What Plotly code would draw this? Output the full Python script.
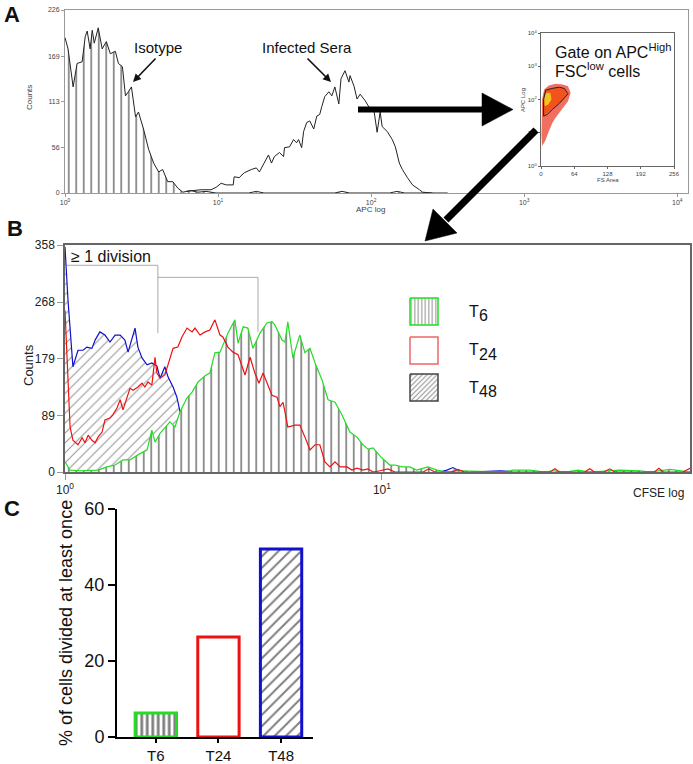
import plotly.graph_objects as go

W, H = 693, 764
FONT = "Arial, 'Liberation Sans', sans-serif"

# ─── Panel A: APC histograms (x stored as log10 APC) ─────────────────────────
iso_log_apc = [0.0, 0.02, 0.053, 0.079, 0.112, 0.132, 0.145, 0.164, 0.178, 0.191,
               0.217, 0.243, 0.27, 0.296, 0.329, 0.349, 0.375, 0.395, 0.414, 0.434,
               0.461, 0.48, 0.513, 0.546, 0.579, 0.612, 0.638, 0.671, 0.704, 0.737,
               0.77, 0.822, 0.868, 0.921, 0.987, 1.2, 1.25, 1.3, 1.76, 1.81,
               1.86, 2.12, 2.17, 2.22, 2.5]
iso_counts = [192, 178, 131, 160, 162, 193, 200, 178, 201, 185,
              204, 178, 187, 172, 175, 160, 156, 120, 125, 131,
              94, 100, 79, 54, 37, 26, 29, 14, 14, 6,
              1, 3, 1, 2, 0, 0, 2, 0, 0, 2,
              0, 0, 2, 0, 0]

inf_log_apc = [0.79, 0.855, 0.888, 0.954, 0.987, 1.02, 1.053, 1.099, 1.105, 1.138,
               1.171, 1.217, 1.25, 1.27, 1.303, 1.329, 1.349, 1.368, 1.401, 1.428,
               1.434, 1.467, 1.493, 1.513, 1.526, 1.546, 1.559, 1.579, 1.599, 1.625,
               1.645, 1.664, 1.678, 1.697, 1.724, 1.743, 1.763, 1.789, 1.803, 1.829,
               1.855, 1.862, 1.888, 1.908, 1.928, 1.961, 1.993, 2.02, 2.039, 2.059,
               2.072, 2.105, 2.138, 2.158, 2.184, 2.204, 2.237, 2.27, 2.316, 2.336,
               2.40]
inf_counts = [2, 3, 4, 4, 7, 12, 10, 10, 20, 19,
              25, 29, 31, 26, 37, 47, 37, 45, 50, 45,
              56, 57, 66, 62, 66, 56, 76, 87, 89, 79,
              95, 97, 107, 119, 125, 120, 131, 110, 141, 151,
              137, 145, 132, 116, 122, 114, 104, 100, 75, 100,
              82, 76, 66, 57, 37, 29, 19, 10, 4, 1,
              0]

# inset dot plot: gated population outlines (FS area, log10 APC)
cloud_fs = [2, 8, 14, 22, 28, 40, 52, 57, 52, 42, 28, 15, 6, 2, 1, 1]
cloud_apc = [0.6, 0.75, 1.0, 1.3, 1.45, 1.7, 1.95, 2.2, 2.4, 2.45, 2.47, 2.42, 2.3, 2.0, 1.5, 0.9]
dense_fs = [4, 12, 25, 40, 50, 45, 30, 15, 6, 3]
dense_apc = [1.5, 1.6, 1.75, 1.95, 2.15, 2.32, 2.35, 2.32, 2.2, 1.9]
core_fs = [7, 14, 20, 18, 10, 6]
core_apc = [1.8, 1.85, 2.0, 2.2, 2.2, 2.05]
gate_fs = [5, 5, 9, 20, 35, 45, 52, 45, 35, 22, 12, 5]
gate_apc = [1.5, 2.0, 2.28, 2.33, 2.37, 2.33, 2.17, 2.05, 1.88, 1.7, 1.55, 1.5]

# ─── Panel B: CFSE histograms (x stored as log10 CFSE) ───────────────────────
t48_log = [0, 0.0095, 0.025, 0.041, 0.057, 0.069, 0.085, 0.095, 0.11, 0.126,
           0.142, 0.158, 0.174, 0.189, 0.199, 0.211, 0.221, 0.23, 0.243, 0.259,
           0.274, 0.29, 0.3, 0.315, 0.325, 0.341, 0.353, 0.363, 0.394, 0.426,
           0.473, 0.536, 0.615, 0.741, 0.899, 0.994, 1.183, 1.205, 1.224, 1.243,
           1.278, 1.372, 1.435, 1.972]
t48_counts = [355, 271, 166, 192, 192, 197, 195, 208, 221, 216,
              205, 216, 216, 208, 189, 211, 227, 197, 180, 169,
              172, 167, 148, 166, 150, 134, 118, 95, 70, 45,
              25, 12, 5, 2, 1, 0, 0, 3, 7, 2,
              0, 2, 0, 0]

t24_log = [0, 0.0095, 0.016, 0.025, 0.041, 0.054, 0.063, 0.073, 0.085, 0.095,
           0.104, 0.117, 0.126, 0.142, 0.151, 0.164, 0.174, 0.183, 0.196, 0.205,
           0.215, 0.23, 0.243, 0.252, 0.262, 0.274, 0.284, 0.29, 0.3, 0.315,
           0.325, 0.341, 0.356, 0.369, 0.385, 0.401, 0.41, 0.426, 0.442, 0.457,
           0.473, 0.489, 0.498, 0.514, 0.53, 0.546, 0.568, 0.584, 0.599, 0.612,
           0.625, 0.637, 0.653, 0.669, 0.678, 0.688, 0.703, 0.726, 0.741, 0.757,
           0.773, 0.789, 0.804, 0.82, 0.836, 0.852, 0.868, 0.89, 0.905, 0.921,
           0.94, 0.956, 0.972, 0.994, 1.019, 1.041, 1.13, 1.148, 1.167, 1.22,
           1.24, 1.26, 1.53, 1.546, 1.56, 1.64, 1.656, 1.67, 1.70, 1.719,
           1.735, 1.86, 1.874, 1.888, 1.95, 1.972]
t24_counts = [255, 145, 71, 50, 43, 54, 46, 58, 50, 46,
              55, 63, 82, 85, 90, 101, 114, 98, 117, 132,
              129, 134, 140, 134, 142, 137, 181, 156, 148, 153,
              169, 195, 197, 213, 227, 221, 227, 216, 221, 224,
              240, 216, 213, 197, 189, 185, 153, 181, 156, 140,
              156, 140, 121, 118, 103, 110, 71, 74, 74, 55,
              35, 43, 43, 16, 8, 16, 8, 8, 3, 6,
              3, 5, 0, 2, 5, 0, 0, 5, 0, 0,
              4, 0, 0, 5, 0, 0, 5, 0, 0, 5,
              0, 0, 6, 0, 0, 6]

t6_log = [0, 0.016, 0.047, 0.104, 0.132, 0.158, 0.183, 0.205, 0.23, 0.259,
          0.274, 0.284, 0.3, 0.315, 0.331, 0.347, 0.363, 0.385, 0.401, 0.42,
          0.442, 0.457, 0.473, 0.489, 0.498, 0.514, 0.536, 0.546, 0.562, 0.577,
          0.593, 0.615, 0.637, 0.653, 0.662, 0.685, 0.694, 0.703, 0.719, 0.741,
          0.757, 0.773, 0.789, 0.811, 0.83, 0.852, 0.874, 0.899, 0.921, 0.94,
          0.956, 0.972, 1.0, 1.025, 1.041, 1.063, 1.088, 1.11, 1.145, 1.174,
          1.205, 1.246, 1.388, 1.413, 1.467, 1.514, 1.539, 1.58, 1.618, 1.656,
          1.751, 1.814, 1.845, 1.909, 1.972]
t6_counts = [16, 3, 2, 3, 8, 11, 19, 19, 27, 35,
             66, 47, 61, 69, 79, 71, 95, 117, 126, 142,
             152, 156, 188, 189, 200, 219, 240, 203, 229, 227,
             195, 219, 235, 237, 232, 208, 205, 237, 180, 216,
             188, 195, 172, 145, 114, 110, 90, 63, 55, 43,
             36, 38, 22, 11, 11, 8, 8, 3, 8, 3,
             0, 2, 0, 3, 3, 0, 2, 0, 3, 0,
             3, 2, 0, 4, 0]

# ─── Panel C ─────────────────────────────────────────────────────────────────
timepoints = ["T6", "T24", "T48"]
pct_divided = [6.3, 26.3, 49.5]

GREEN, RED, BLUE = "#22dd22", "#ee1111", "#1111cc"


def P(px, py):
    """pixel -> paper coords"""
    return px / W, 1 - py / H


def dom_x(a, b):
    return [a / W, b / W]


def dom_y(top, bottom):
    return [1 - bottom / H, 1 - top / H]


def sup_ticks(n):
    return [f"10<sup>{i}</sup>" for i in range(n)]


fig = go.Figure()

# Panel A
fig.add_trace(go.Scatter(
    x=iso_log_apc, y=iso_counts, mode="lines", line=dict(color="#222", width=1),
    fill="tozeroy",
    fillpattern=dict(shape="|", fgcolor="black", bgcolor="white", size=7.5, solidity=0.22),
    xaxis="x", yaxis="y"))
fig.add_trace(go.Scatter(
    x=inf_log_apc, y=inf_counts, mode="lines", line=dict(color="#222", width=1),
    xaxis="x", yaxis="y"))

# inset
for xs, ys, col in [(cloud_fs, cloud_apc, "rgba(235,50,30,0.7)"),
                    (dense_fs, dense_apc, "rgba(240,80,20,0.9)"),
                    (core_fs, core_apc, "#f7c21e")]:
    fig.add_trace(go.Scatter(x=xs + xs[:1], y=ys + ys[:1], mode="lines", fill="toself",
                             fillcolor=col, line=dict(width=0), xaxis="x2", yaxis="y2"))
fig.add_trace(go.Scatter(x=gate_fs, y=gate_apc, mode="lines",
                         line=dict(color="#222", width=1), xaxis="x2", yaxis="y2"))

# Panel B
fig.add_trace(go.Scatter(
    x=t48_log, y=t48_counts, mode="lines", line=dict(color=BLUE, width=1.2),
    fill="tozeroy",
    fillpattern=dict(shape="/", fgcolor="#333", bgcolor="white", size=7, solidity=0.16),
    xaxis="x3", yaxis="y3"))
fig.add_trace(go.Scatter(
    x=t6_log, y=t6_counts, mode="lines", line=dict(color=GREEN, width=1.2),
    fill="tozeroy",
    fillpattern=dict(shape="|", fgcolor="black", bgcolor="white", size=7.5, solidity=0.22),
    xaxis="x3", yaxis="y3"))
fig.add_trace(go.Scatter(
    x=t24_log, y=t24_counts, mode="lines", line=dict(color=RED, width=1.2),
    xaxis="x3", yaxis="y3"))

# Panel C
fig.add_trace(go.Bar(
    x=timepoints, y=pct_divided, width=0.66,
    marker=dict(
        color="white",
        line=dict(color=[GREEN, RED, BLUE], width=3),
        pattern=dict(shape=["|", "", "/"], fgcolor="black", bgcolor="white",
                     size=[5.5, 6, 8], solidity=[0.5, 0.3, 0.25]),
    ),
    xaxis="x4", yaxis="y4"))

# legend swatches for panel B (overlay pixel axis)
for top, col, shape in [(298, GREEN, "|"), (337, "#ee6666", ""), (374, "#444", "/")]:
    fig.add_trace(go.Scatter(
        x=[410, 438, 438, 410, 410], y=[top, top, top + 27, top + 27, top],
        mode="lines", line=dict(color=col, width=1.5), fill="toself",
        fillcolor="white",
        fillpattern=dict(shape=shape, fgcolor="#222", bgcolor="white", size=3.5,
                         solidity=0.3),
        xaxis="x5", yaxis="y5"))

small = dict(family=FONT, size=7, color="#444")
thin = dict(showgrid=False, zeroline=False, showline=True, mirror=True, ticks="outside")

layout_axes = dict(
    xaxis=dict(domain=dom_x(65, 688), range=[0, 4.07], tickvals=[0, 1, 2, 3, 4],
               ticktext=sup_ticks(5), tickfont=small, linecolor="#999", tickcolor="#999",
               ticklen=3, anchor="y", **thin),
    yaxis=dict(domain=dom_y(10, 193), range=[0, 226], tickvals=[0, 56, 113, 169, 226],
               tickfont=small, linecolor="#999", tickcolor="#999", ticklen=3,
               anchor="x", **thin),
    xaxis2=dict(domain=dom_x(541, 674), range=[0, 256], tickvals=[0, 64, 128, 192, 256],
                tickfont=dict(family=FONT, size=6, color="#444"), linecolor="#666",
                tickcolor="#666", ticklen=2, anchor="y2", **thin),
    yaxis2=dict(domain=dom_y(33, 166), range=[0, 4], tickvals=[0, 1, 2, 3, 4],
                ticktext=sup_ticks(5), tickfont=dict(family=FONT, size=6, color="#444"),
                linecolor="#666", tickcolor="#666", ticklen=2, anchor="x2", **thin),
    xaxis3=dict(domain=dom_x(65, 690), range=[0, 1.972], tickvals=[0, 1],
                ticktext=sup_ticks(2), tickfont=dict(family=FONT, size=12, color="#222"),
                linecolor="#666", linewidth=1.5, tickcolor="#999", ticklen=6,
                anchor="y3", **thin),
    yaxis3=dict(domain=dom_y(245, 472), range=[0, 358], tickvals=[0, 89, 179, 268, 358],
                tickfont=dict(family=FONT, size=12, color="#222"), linecolor="#666",
                linewidth=1.5, tickcolor="#999", ticklen=6, anchor="x3", **thin),
    xaxis4=dict(domain=dom_x(117, 313), range=[-0.62, 2.51], showgrid=False,
                zeroline=False, showline=True, linecolor="black", linewidth=2,
                ticks="outside", tickcolor="black", tickwidth=2, ticklen=4,
                tickfont=dict(family=FONT, size=15, color="#111"), anchor="y4"),
    yaxis4=dict(domain=dom_y(509, 737), range=[0, 60], tickvals=[0, 20, 40, 60],
                showgrid=False, zeroline=False, showline=True, linecolor="black",
                linewidth=2, ticks="outside", tickcolor="black", tickwidth=2, ticklen=7,
                tickfont=dict(family=FONT, size=18, color="#111"), anchor="x4"),
    xaxis5=dict(domain=[0, 1], range=[0, W], visible=False, anchor="y5", fixedrange=True),
    yaxis5=dict(domain=[0, 1], range=[H, 0], visible=False, anchor="x5", fixedrange=True),
)


def note(px, py, text, size, **kw):
    x, y = P(px, py)
    d = dict(x=x, y=y, xref="paper", yref="paper", text=text, showarrow=False,
             font=dict(family=FONT, size=size, color=kw.pop("color", "#111")),
             xanchor=kw.pop("xanchor", "center"), yanchor=kw.pop("yanchor", "middle"))
    d.update(kw)
    return d


def pointer(tail, tip):
    x, y = P(*tip)
    return dict(x=x, y=y, xref="paper", yref="paper", text="", showarrow=True,
                ax=tail[0] - tip[0], ay=tail[1] - tip[1], arrowhead=2, arrowsize=1,
                arrowwidth=1.6, arrowcolor="#111")


annotations = [
    note(12, 15, "<b>A</b>", 22),
    note(15, 228, "<b>B</b>", 22),
    note(12, 508, "<b>C</b>", 22),
    note(158, 48, "Isotype", 15),
    note(307, 48, "Infected Sera", 15),
    pointer((157, 57), (133, 82)),
    pointer((306, 57), (331, 82)),
    note(29, 98, "Counts", 8, textangle=-90, color="#444"),
    note(370, 209, "APC log", 8, color="#444"),
    note(553, 51, "Gate on APC<sup>High</sup>", 16, xanchor="left"),
    note(553, 70, "FSC<sup>low</sup> cells", 16, xanchor="left"),
    note(523, 100, "APC Log", 6, textangle=-90, color="#444"),
    note(608, 180, "FS Area", 6, color="#444"),
    note(69, 256, "≥ 1 division", 16, xanchor="left"),
    note(29, 365, "Counts", 13, textangle=-90, color="#222"),
    note(658, 493, "CFSE log", 12, color="#222"),
    note(66, 623, "% of cells divided at least once", 18, textangle=-90),
]
for py, digits in [(313, "6"), (352, "24"), (389, "48")]:
    annotations.append(note(467, py - 2, "T", 16, xanchor="left"))
    annotations.append(note(477, py + 2, digits, 16, xanchor="left"))


def seg(a, b, w, col="black"):
    x0, y0 = P(*a)
    x1, y1 = P(*b)
    return dict(type="line", xref="paper", yref="paper", x0=x0, y0=y0, x1=x1, y1=y1,
                line=dict(color=col, width=w))


def tri(pts):
    path = "M " + " L ".join(f"{P(*p)[0]},{P(*p)[1]}" for p in pts) + " Z"
    return dict(type="path", xref="paper", yref="paper", path=path,
                fillcolor="black", line=dict(color="black", width=0.5))


shapes = [
    seg((358, 109.5), (485, 109.5), 6),
    tri([(482, 93), (482, 126), (513, 109.5)]),
    seg((536, 130), (446, 220), 7),
    tri([(433, 209), (457, 233), (425, 241)]),
    # "≥ 1 division" brackets (CFSE data coords)
    dict(type="path", xref="x3", yref="y3", path="M 0.006,326 L 0.293,326 L 0.293,219",
         line=dict(color="#aaa", width=1)),
    dict(type="path", xref="x3", yref="y3", path="M 0.293,307 L 0.609,307 L 0.609,221",
         line=dict(color="#aaa", width=1)),
]

fig.update_layout(
    width=W, height=H, margin=dict(l=0, r=0, t=0, b=0, pad=0, autoexpand=False),
    paper_bgcolor="white", plot_bgcolor="rgba(0,0,0,0)",
    showlegend=False, font=dict(family=FONT),
    annotations=annotations, shapes=shapes, **layout_axes,
)

# drop the browser's default 8px page margin so the figure sits at the window origin
fig.write_html("out.html", config={"displayModeBar": False},
               post_script="document.body.style.margin = '0';")
